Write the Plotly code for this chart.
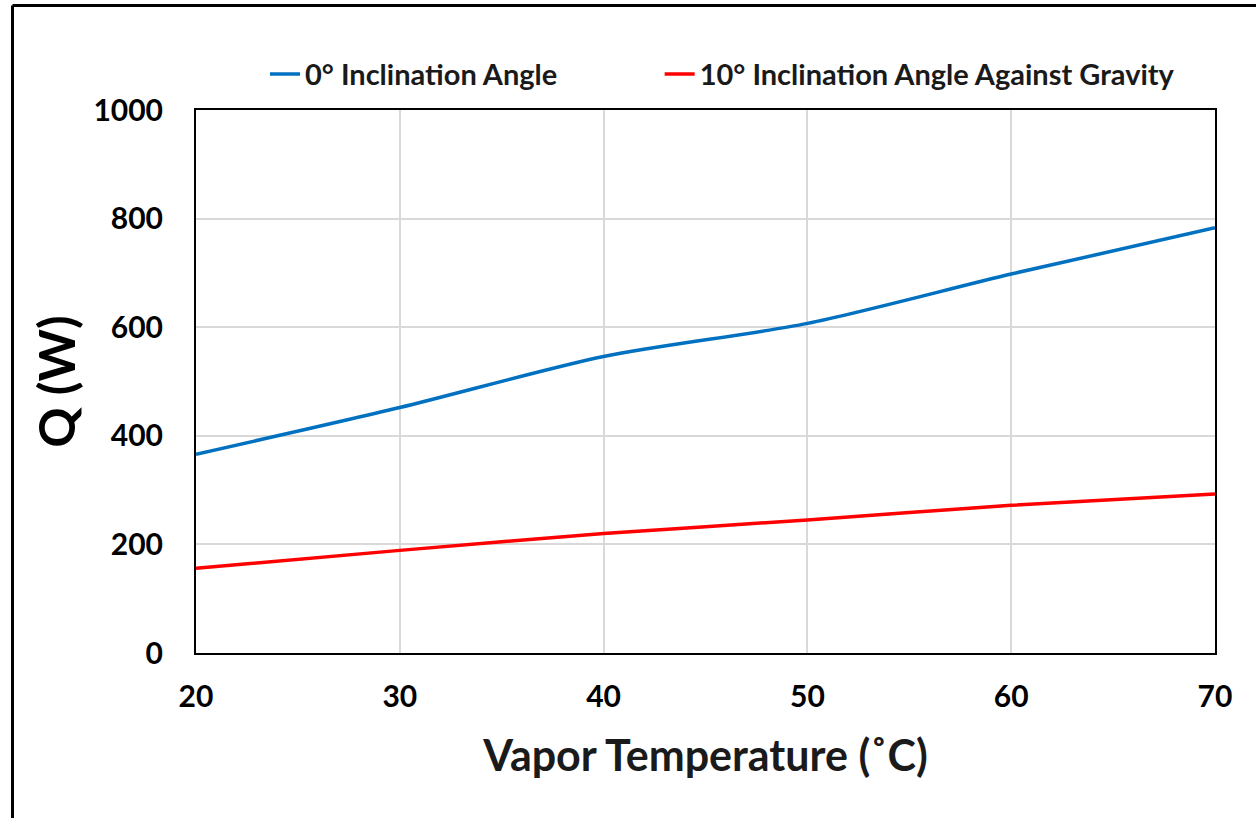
import plotly.graph_objects as go

temps = [20, 30, 40, 50, 60, 70]
q_0deg = [366, 452, 546, 607, 698, 783]
q_10deg = [156, 189, 220, 245, 272, 293]

name_0 = "0° Inclination Angle"
name_10 = "10° Inclination Angle Against Gravity"

x_ticks = [20, 30, 40, 50, 60, 70]
y_ticks = [0, 200, 400, 600, 800, 1000]

FONT = "Lato"

fig = go.Figure()
fig.add_trace(go.Scatter(x=temps, y=q_0deg, mode="lines", name=name_0, legend="legend",
                         line=dict(color="#0070C0", width=3.5, shape="spline", smoothing=0.8)))
fig.add_trace(go.Scatter(x=temps, y=q_10deg, mode="lines", name=name_10, legend="legend2",
                         line=dict(color="#FF0000", width=3.5, shape="spline", smoothing=0.8)))

leg_font = dict(family=FONT, size=29, color="#1a1a1a", weight="bold")

fig.update_layout(
    width=1256, height=818,
    margin=dict(l=196, r=41, t=110, b=165),
    paper_bgcolor="white", plot_bgcolor="white",
    font=dict(family=FONT, color="black"),
    showlegend=True,
    legend=dict(orientation="h", x=0.0677, xanchor="left", y=1.066, yanchor="middle",
                font=leg_font, bgcolor="rgba(0,0,0,0)"),
    legend2=dict(orientation="h", x=0.455, xanchor="left", y=1.066, yanchor="middle",
                 font=leg_font, bgcolor="rgba(0,0,0,0)"),
    xaxis=dict(
        range=[20, 70], tickvals=x_ticks, ticktext=[str(v) for v in x_ticks],
        showgrid=True, gridcolor="#d9d9d9", gridwidth=2,
        showline=True, linecolor="black", linewidth=2, mirror=True,
        ticks="", ticklabelstandoff=16, zeroline=False,
        tickfont=dict(family=FONT, size=30, weight="bold"),
        title=dict(text="Vapor Temperature (˚C)", standoff=29,
                   font=dict(family=FONT, size=43, weight="bold", color="#1a1a1a")),
    ),
    yaxis=dict(
        range=[0, 1000], tickvals=y_ticks, ticktext=[str(v) for v in y_ticks],
        showgrid=True, gridcolor="#d9d9d9", gridwidth=2,
        showline=True, linecolor="black", linewidth=2, mirror=True,
        ticks="", ticklabelstandoff=25, zeroline=False,
        tickfont=dict(family=FONT, size=30, weight="bold"),
        title=dict(text="Q (W)", standoff=2,
                   font=dict(family=FONT, size=50, weight="bold", color="black")),
    ),
)

# outer chart-area border (left and top edges visible in the reference)
xl = (12.5 - 196) / 1019
yt = (653 - 5.5) / 543
fig.add_shape(type="line", xref="paper", yref="paper", x0=xl, y0=yt, x1=xl, y1=-0.5,
              line=dict(color="black", width=3))
fig.add_shape(type="line", xref="paper", yref="paper", x0=xl, y0=yt, x1=1.2, y1=yt,
              line=dict(color="black", width=3))

fig.write_html("out.html")
